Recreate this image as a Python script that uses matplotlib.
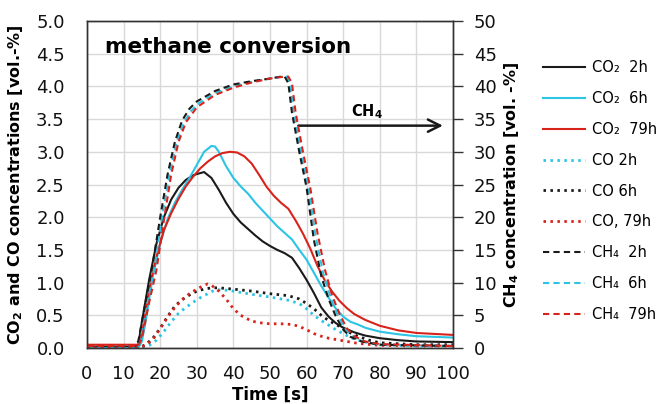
import matplotlib
matplotlib.use("Agg")
import matplotlib.pyplot as plt

# ---------------- data ----------------
t_co2_2h = [0, 13, 14, 15, 17, 19, 21, 23, 25, 27, 29, 30, 32, 34, 36, 38, 40, 42, 44, 46, 48, 50,
            52, 54, 56, 58, 60, 62, 64, 66, 68, 70, 73, 76, 80, 85, 90, 100]
co2_2h = [0.02, 0.02, 0.05, 0.4, 1.05, 1.6, 2.0, 2.27, 2.45, 2.57, 2.64, 2.66, 2.69, 2.6, 2.42, 2.22, 2.05,
          1.92, 1.82, 1.72, 1.63, 1.56, 1.5, 1.45, 1.38, 1.22, 1.04, 0.84, 0.62, 0.48, 0.38, 0.31, 0.24,
          0.19, 0.15, 0.12, 0.1, 0.09]

t_co2_6h = [0, 14, 15, 16, 18, 20, 22, 24, 26, 28, 30, 32, 34, 35, 36, 38, 40, 42, 44, 46, 48, 50, 52,
            54, 56, 58, 60, 62, 64, 66, 68, 70, 72, 74, 76, 80, 85, 90, 100]
co2_6h = [0.0, 0.0, 0.1, 0.4, 1.1, 1.6, 1.97, 2.22, 2.42, 2.6, 2.8, 3.0, 3.09, 3.08, 3.0, 2.78, 2.6,
          2.47, 2.36, 2.22, 2.1, 1.98, 1.86, 1.76, 1.66, 1.5, 1.35, 1.15, 0.95, 0.77, 0.6, 0.48, 0.4,
          0.36, 0.31, 0.25, 0.21, 0.18, 0.16]

t_co2_79h = [0, 14, 15, 17, 19, 21, 23, 25, 27, 29, 31, 33, 35, 37, 39, 41, 43, 45, 47, 49, 51, 53,
             55, 57, 59, 61, 63, 65, 67, 69, 71, 73, 76, 80, 85, 90, 100]
co2_79h = [0.05, 0.05, 0.2, 0.9, 1.4, 1.8, 2.06, 2.28, 2.47, 2.62, 2.75, 2.85, 2.93, 2.98, 3.0, 2.99,
           2.93, 2.82, 2.65, 2.47, 2.33, 2.22, 2.13, 1.95, 1.75, 1.52, 1.25, 1.03, 0.86, 0.72, 0.61,
           0.52, 0.43, 0.34, 0.27, 0.23, 0.2]

t_co_2h = [0, 15, 17, 19, 21, 23, 25, 27, 29, 31, 33, 35, 37, 40, 45, 50, 55, 58, 60, 62, 64, 66, 68,
           70, 72, 74, 77, 80, 90, 100]
co_2h = [0.0, 0.0, 0.04, 0.12, 0.25, 0.4, 0.53, 0.62, 0.7, 0.77, 0.83, 0.89, 0.89, 0.87, 0.82, 0.78,
         0.73, 0.68, 0.6, 0.5, 0.42, 0.35, 0.28, 0.22, 0.16, 0.12, 0.08, 0.05, 0.03, 0.03]

t_co_6h = [0, 14, 16, 18, 20, 22, 24, 26, 28, 30, 32, 34, 36, 40, 45, 50, 55, 58, 60, 62, 64, 66, 68,
           70, 72, 74, 77, 80, 90, 100]
co_6h = [0.0, 0.0, 0.05, 0.15, 0.3, 0.48, 0.64, 0.74, 0.81, 0.87, 0.9, 0.92, 0.92, 0.9, 0.87, 0.83,
         0.8, 0.75, 0.68, 0.6, 0.5, 0.42, 0.36, 0.3, 0.23, 0.18, 0.12, 0.08, 0.05, 0.05]

t_co_79h = [0, 14, 16, 18, 20, 22, 24, 26, 28, 30, 32, 33, 34, 36, 38, 40, 42, 45, 48, 50, 53, 56, 58,
            60, 62, 64, 66, 68, 70, 73, 76, 80, 90, 100]
co_79h = [0.0, 0.0, 0.04, 0.13, 0.3, 0.47, 0.62, 0.74, 0.83, 0.9, 0.96, 0.98, 0.96, 0.87, 0.75, 0.6,
          0.5, 0.41, 0.38, 0.37, 0.37, 0.36, 0.33, 0.28, 0.22, 0.18, 0.15, 0.13, 0.11, 0.08, 0.06,
          0.04, 0.03, 0.03]

# CH4 in vol.-% (right axis)
t_ch4_2h = [0, 13, 14, 16, 18, 20, 22, 24, 26, 28, 30, 35, 40, 45, 50, 53, 54, 55, 56, 58, 60, 62, 64,
            66, 68, 70, 72, 75, 80, 100]
ch4_2h = [0.3, 0.3, 1.0, 7.0, 13.0, 20.0, 26.5, 31.5, 34.8, 36.6, 37.7, 39.3, 40.3, 40.8, 41.2, 41.5,
          41.5, 40.5, 36.0, 30.0, 24.5, 16.5, 11.0, 7.5, 4.8, 2.8, 1.7, 1.0, 0.5, 0.3]

t_ch4_6h = [0, 13.5, 14.5, 16.5, 18.5, 20.5, 22.5, 24.5, 26.5, 28.5, 30.5, 35, 40, 45, 50, 53.5, 54.5,
            55.5, 56.5, 58.5, 60.5, 62.5, 64.5, 66.5, 68.5, 70.5, 72.5, 75.5, 80, 100]
ch4_6h = [0.3, 0.3, 1.0, 7.0, 12.5, 20.0, 26.5, 31.5, 34.5, 36.3, 37.4, 39.0, 40.0, 40.7, 41.2, 41.5,
          41.5, 40.5, 36.0, 30.0, 24.5, 17.0, 11.5, 7.8, 5.0, 3.0, 1.8, 1.0, 0.5, 0.3]

t_ch4_79h = [0, 14, 15, 17, 19, 21, 23, 25, 27, 30, 35, 40, 45, 50, 54, 55, 56, 57, 59, 61, 63, 65,
             67, 69, 71, 73, 76, 80, 100]
ch4_79h = [0.3, 0.3, 1.5, 7.0, 12.0, 19.5, 26.5, 31.5, 34.5, 36.8, 38.7, 39.8, 40.6, 41.2, 41.5, 41.5,
           40.5, 36.0, 30.0, 24.5, 17.5, 12.0, 8.0, 5.2, 3.0, 1.8, 1.0, 0.6, 0.3]

labels = ["CO\u2082  2h", "CO\u2082  6h", "CO\u2082  79h", "CO 2h", "CO 6h", "CO, 79h",
          "CH\u2084  2h", "CH\u2084  6h", "CH\u2084  79h"]

x_ticks = list(range(0, 101, 10))
y_left_ticks = [0.0, 0.5, 1.0, 1.5, 2.0, 2.5, 3.0, 3.5, 4.0, 4.5, 5.0]
y_right_ticks = list(range(0, 51, 5))

# ---------------- style ----------------
BLACK = "#1a1a1a"
CYAN = "#2cc4e4"
RED = "#d8231b"
dot = (0, (0.9, 1.6))
dash = (0, (3.0, 2.0))

fig = plt.figure(figsize=(6.64, 4.04), dpi=100)
ax = fig.add_axes([87 / 664, 56 / 404, (453 - 87) / 664, (348 - 21) / 404])
ax2 = ax.twinx()

lw = 1.5
h = []
h += ax.plot(t_co2_2h, co2_2h, color=BLACK, lw=lw)
h += ax.plot(t_co2_6h, co2_6h, color=CYAN, lw=lw)
h += ax.plot(t_co2_79h, co2_79h, color=RED, lw=lw)
h += ax.plot(t_co_2h, co_2h, color=CYAN, lw=2.0, ls=dot)
h += ax.plot(t_co_6h, co_6h, color=BLACK, lw=2.0, ls=dot)
h += ax.plot(t_co_79h, co_79h, color=RED, lw=2.0, ls=dot)
h += ax2.plot(t_ch4_6h, ch4_6h, color=CYAN, lw=lw, ls=dash)
h2 = ax2.plot(t_ch4_2h, ch4_2h, color=BLACK, lw=lw, ls=dash)
h3 = ax2.plot(t_ch4_79h, ch4_79h, color=RED, lw=lw, ls=dash)
handles = h[:6] + h2 + [h[6]] + h3

ax.set_xlim(0, 100)
ax.set_ylim(0, 5)
ax2.set_ylim(0, 50)
ax.set_xticks(x_ticks)
ax.set_yticks(y_left_ticks)
ax.set_yticklabels([f"{v:.1f}" for v in y_left_ticks])
ax2.set_yticks(y_right_ticks)

ax.grid(True, color="#d9d9d9", lw=1.0)
ax.set_axisbelow(True)
for a in (ax, ax2):
    for s in a.spines.values():
        s.set_color("#333333")
        s.set_linewidth(1.0)

fs = 13
ax.tick_params(axis="x", length=0, pad=12, labelsize=fs, colors="#111111")
ax.tick_params(axis="y", length=0, pad=16, labelsize=fs, colors="#111111")
ax2.tick_params(axis="y", length=7, width=1.0, pad=8, labelsize=fs, colors="#111111",
                color="#333333")

ax.set_xlabel("Time [s]", fontsize=12, fontweight="bold", labelpad=2)
ax.set_ylabel("CO$_\\mathbf{2}$ and CO concentrations [vol.-%]", fontsize=11.5,
              fontweight="bold", labelpad=8)
ax2.set_ylabel("CH$_\\mathbf{4}$ concentration [vol. -%]", fontsize=11.5,
               fontweight="bold", labelpad=4)

ax.text(5, 4.6, "methane conversion", fontsize=15.5, fontweight="bold", va="center", ha="left")

# arrow
ax.annotate("", xy=(98, 3.4), xytext=(57, 3.4),
            arrowprops=dict(arrowstyle="->", color=BLACK, lw=1.8, mutation_scale=22))
ax.text(76.5, 3.62, "CH$_\\mathbf{4}$", fontsize=10.5, fontweight="bold", ha="center", va="center")

fig.legend(handles, labels, loc="upper left", bbox_to_anchor=(543 / 664, 1 - 60 / 404),
           frameon=False, fontsize=10.5, handlelength=2.9, handletextpad=0.45,
           labelspacing=1.09, borderpad=0, borderaxespad=0)

fig.savefig("out.png", dpi=100)
